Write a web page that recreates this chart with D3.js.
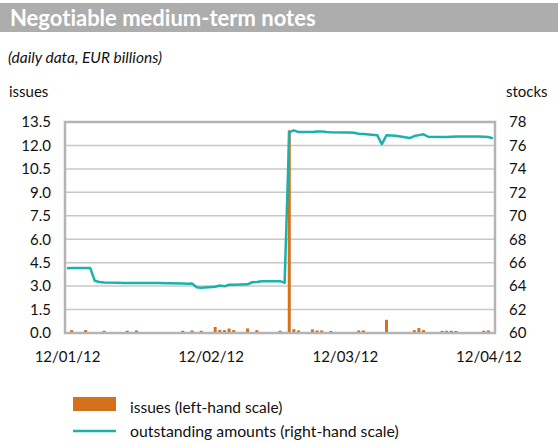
<!DOCTYPE html>
<html><head><meta charset="utf-8">
<script src="https://cdn.jsdelivr.net/npm/d3@7/dist/d3.min.js"></script>
<style>
body{margin:0;background:#fff;}
svg text{font-family:Lato,"Open Sans",sans-serif;fill:#111;font-variant-ligatures:none;}
</style></head>
<body><svg id="c" width="558" height="445"></svg>
<script>
const title = "Negotiable medium-term notes";
const subtitle = "(daily data, EUR billions)";
const leftTicks = [0, 1.5, 3, 4.5, 6, 7.5, 9, 10.5, 12, 13.5];
const rightTicks = [60, 62, 64, 66, 68, 70, 72, 74, 76, 78];
const xTickDates = ["2012-01-12", "2012-02-12", "2012-03-12", "2012-04-12"];
const xTickLabels = ["12/01/12", "12/02/12", "12/03/12", "12/04/12"];

const stockDates = ["2012-01-12","2012-01-13","2012-01-16","2012-01-17","2012-01-18","2012-01-19","2012-01-20",
"2012-01-23","2012-01-24","2012-01-25","2012-01-26","2012-01-27","2012-01-30","2012-01-31","2012-02-01","2012-02-02","2012-02-03",
"2012-02-06","2012-02-07","2012-02-08","2012-02-09","2012-02-10","2012-02-13","2012-02-14","2012-02-15","2012-02-16","2012-02-17",
"2012-02-20","2012-02-21","2012-02-22","2012-02-23","2012-02-24","2012-02-27","2012-02-28","2012-02-29","2012-03-01","2012-03-02",
"2012-03-05","2012-03-06","2012-03-07","2012-03-08","2012-03-09","2012-03-12","2012-03-13","2012-03-14","2012-03-15","2012-03-16",
"2012-03-19","2012-03-20","2012-03-21","2012-03-22","2012-03-23","2012-03-26","2012-03-27","2012-03-28","2012-03-29","2012-03-30",
"2012-04-02","2012-04-03","2012-04-04","2012-04-05","2012-04-10","2012-04-11","2012-04-12","2012-04-13"];
const stockValues = [65.53,65.55,65.55,65.55,64.45,64.35,64.3,
64.28,64.27,64.27,64.26,64.26,64.26,64.26,64.26,64.25,64.25,
64.22,64.2,64.22,63.9,63.85,63.95,64.05,63.98,64.12,64.12,
64.15,64.33,64.35,64.42,64.42,64.42,64.28,77.14,77.29,77.14,
77.15,77.18,77.2,77.15,77.12,77.1,77.1,77.08,77.0,76.97,
76.88,76.1,76.88,76.85,76.82,76.63,76.8,76.88,76.95,76.74,
76.72,76.73,76.75,76.76,76.76,76.74,76.72,76.6];

const issueDates = ["2012-01-13","2012-01-16","2012-01-20","2012-01-25","2012-01-27","2012-02-06","2012-02-08","2012-02-10",
"2012-02-13","2012-02-14","2012-02-15","2012-02-16","2012-02-17","2012-02-20","2012-02-22","2012-02-27","2012-02-29",
"2012-03-01","2012-03-02","2012-03-05","2012-03-06","2012-03-07","2012-03-09","2012-03-15","2012-03-16","2012-03-21",
"2012-03-27","2012-03-28","2012-03-29","2012-04-02","2012-04-03","2012-04-04","2012-04-05","2012-04-11","2012-04-12"];
const issueValues = [0.12,0.12,0.08,0.08,0.1,0.08,0.1,0.08,
0.32,0.14,0.12,0.22,0.12,0.23,0.12,0.08,12.9,
0.18,0.1,0.17,0.1,0.1,0.07,0.1,0.1,0.78,
0.12,0.25,0.12,0.07,0.08,0.08,0.07,0.08,0.1];

const legendLabels = ["issues (left-hand scale)", "outstanding amounts (right-hand scale)"];

const barColor = "#D4711D", lineColor = "#1AB3AB";
const svg = d3.select("#c");
const parse = d3.utcParse("%Y-%m-%d");

// title bar
svg.append("rect").attr("x",0).attr("y",3).attr("width",558).attr("height",29).attr("fill","#ADADAD");
svg.append("text").attr("x",10).attr("y",26).text(title)
  .style("font-size","22px").style("font-weight","bold").style("fill","#fff");
svg.append("text").attr("x",8).attr("y",63).text(subtitle)
  .style("font-size","15.5px").style("font-style","italic");
svg.append("text").attr("x",9).attr("y",97).text("issues").style("font-size","15px");
svg.append("text").attr("x",506).attr("y",97).text("stocks").style("font-size","15px");

const L = 65, R = 495, T = 122, B = 333;
const x = d3.scaleUtc().domain([parse("2012-01-12"), parse("2012-04-13")]).range([67, 493]);
const yL = d3.scaleLinear().domain([0, 13.5]).range([B, T]);
const yR = d3.scaleLinear().domain([60, 78]).range([B, T]);

// grid
svg.append("g").selectAll("line").data(leftTicks).join("line")
  .attr("x1",L).attr("x2",R).attr("y1",d=>yL(d)).attr("y2",d=>yL(d))
  .attr("stroke","#C8C8C8").attr("stroke-width",1.5);

// frame
svg.append("rect").attr("x",L).attr("y",T).attr("width",R-L).attr("height",B-T)
  .attr("fill","none").attr("stroke","#B4B4B4").attr("stroke-width",2.5);

// bars (drawn above the frame so small values remain visible)
const base = B - 1;
svg.append("g").selectAll("rect").data(issueDates.map((d,i)=>({d:parse(d),v:issueValues[i]}))).join("rect")
  .attr("x",d=>x(d.d)-1.5).attr("width",3)
  .attr("y",d=>yL(d.v)-1).attr("height",d=>base-(yL(d.v)-1)).attr("fill",barColor);

// line
const line = d3.line().x(d=>x(d.d)).y(d=>yR(d.v));
svg.append("path").datum(stockDates.map((d,i)=>({d:parse(d),v:stockValues[i]})))
  .attr("d",line).attr("fill","none").attr("stroke",lineColor).attr("stroke-width",2.5)
  .attr("stroke-linejoin","round");

// axes
const axL = d3.axisLeft(yL).tickValues(leftTicks).tickFormat(d3.format(".1f")).tickSize(0).tickPadding(14);
const gL = svg.append("g").attr("transform",`translate(${L},0)`).call(axL);
const axR = d3.axisRight(yR).tickValues(rightTicks).tickFormat(d3.format("d")).tickSize(0).tickPadding(14);
const gR = svg.append("g").attr("transform",`translate(${R},0)`).call(axR);
const axB = d3.axisBottom(x).tickValues(xTickDates.map(parse)).tickFormat((d,i)=>xTickLabels[i]).tickSize(0).tickPadding(18);
const gB = svg.append("g").attr("transform",`translate(0,${B})`).call(axB);
[gL,gR,gB].forEach(g=>{g.select(".domain").remove();
  g.selectAll("text").style("font-size","15px").style("font-family","Lato,sans-serif").attr("fill","#111");});

// legend
svg.append("rect").attr("x",73).attr("y",397).attr("width",43).attr("height",14).attr("fill",barColor);
svg.append("line").attr("x1",73).attr("x2",116).attr("y1",431).attr("y2",431).attr("stroke",lineColor).attr("stroke-width",2.5);
svg.append("text").attr("x",130).attr("y",413).text(legendLabels[0]).style("font-size","15.5px");
svg.append("text").attr("x",130).attr("y",437).text(legendLabels[1]).style("font-size","15.8px");
</script></body></html>
